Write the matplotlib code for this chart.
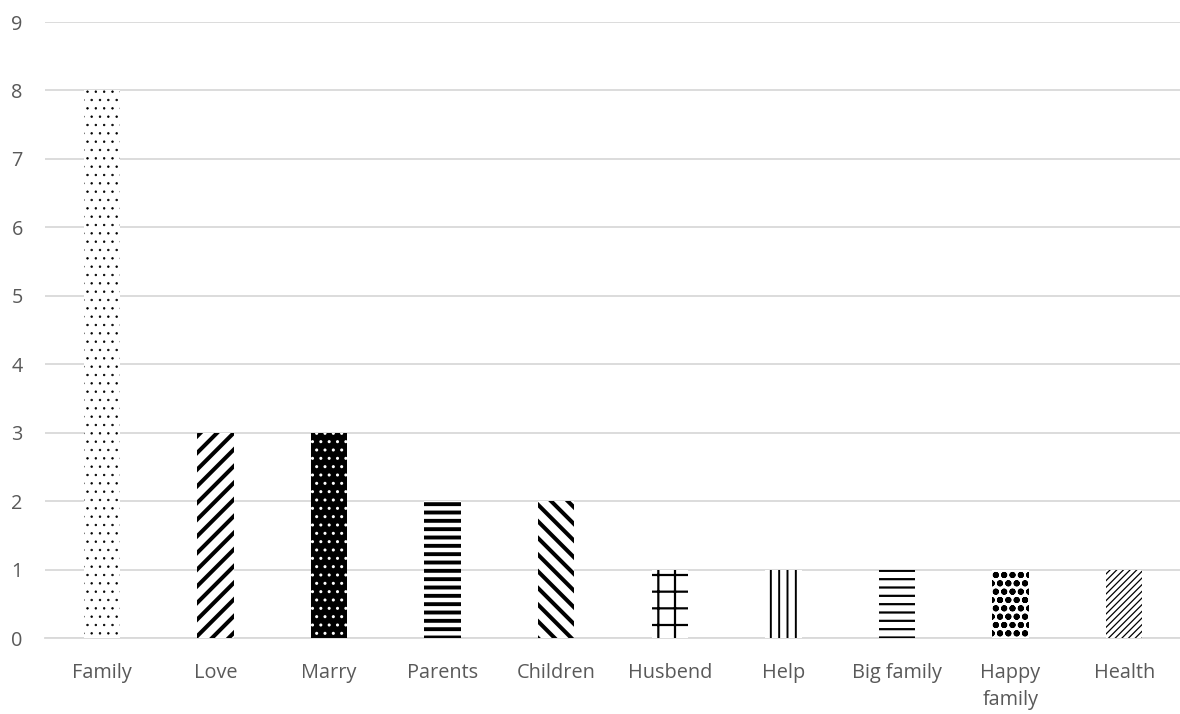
import matplotlib
matplotlib.use("Agg")
import matplotlib.pyplot as plt

# Word counts per category
categories = ["Family", "Love", "Marry", "Parents", "Children",
              "Husbend", "Help", "Big family", "Happy\nfamily", "Health"]
counts = [8, 3, 3, 2, 2, 1, 1, 1, 1, 1]

# Fill pattern per bar: (hatch, face colour, hatch colour, hatch linewidth)
patterns = [
    ("..",     "white", "black", 0.5),
    ("//",     "white", "black", 2.9),
    ("..",     "black", "white", 1.0),
    ("--",     "white", "black", 2.8),
    ("\\\\",   "white", "black", 2.9),
    ("+",      "white", "black", 1.6),
    ("||",     "white", "black", 1.4),
    ("--",     "white", "black", 1.6),
    ("oo",     "white", "black", 2.0),
    ("/////",  "white", "black", 0.9),
]

plt.rcParams["font.family"] = ["Open Sans", "DejaVu Sans"]

fig = plt.figure(figsize=(11.8, 7.14), dpi=100)
ax = fig.add_axes([45 / 1180, 76 / 714, 1136 / 1180, 616 / 714])

x = list(range(len(categories)))
for xi, val, (hatch, face, hcol, hlw) in zip(x, counts, patterns):
    with plt.rc_context({"hatch.linewidth": hlw}):
        bars = ax.bar(xi, val, width=0.32, color=face, edgecolor=hcol,
                      hatch=hatch, linewidth=0, zorder=3)
    for b in bars:
        if hasattr(b, "set_hatch_linewidth"):
            b.set_hatch_linewidth(hlw)

ax.set_xlim(-0.5, len(categories) - 0.5)
ax.set_ylim(0, 9)
ax.set_yticks(range(0, 10))
ax.set_xticks(x)
ax.set_xticklabels(categories, linespacing=1.5)

ax.grid(axis="y", color="#d9d9d9", linewidth=1.3, zorder=0)
ax.grid(axis="x", visible=False)
for side in ["left", "right", "top"]:
    ax.spines[side].set_visible(False)
ax.spines["bottom"].set_color("#d9d9d9")
ax.spines["bottom"].set_linewidth(1.3)

ax.tick_params(axis="both", length=0, labelsize=14.3, labelcolor="#595959")
ax.tick_params(axis="y", pad=16)
ax.tick_params(axis="x", pad=18)

fig.savefig("out.png", dpi=100)
